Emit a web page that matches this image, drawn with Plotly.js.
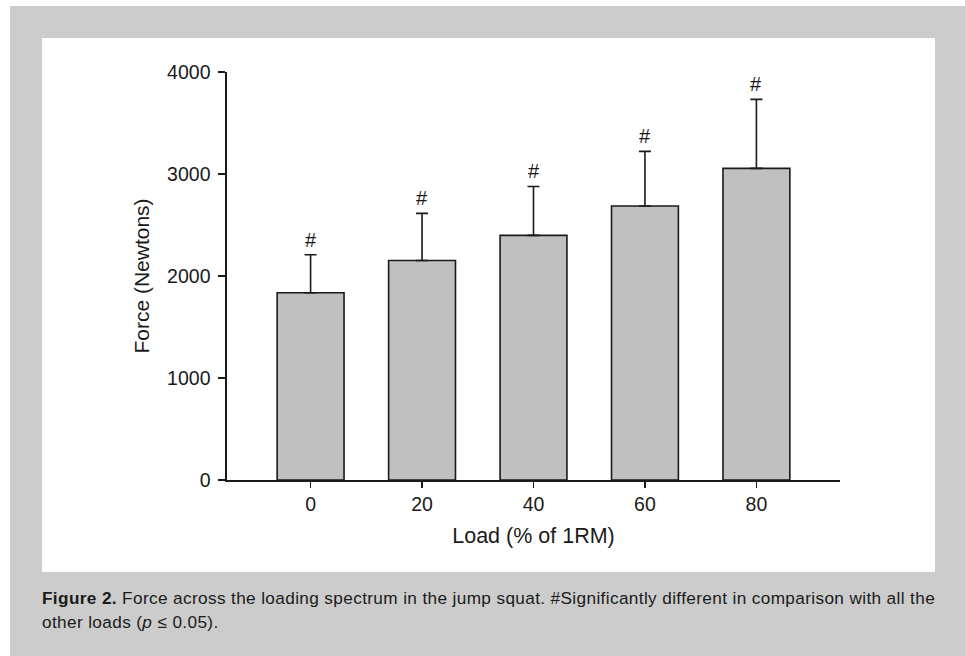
<!DOCTYPE html>
<html>
<head>
<meta charset="utf-8">
<script src="https://cdn.plot.ly/plotly-3.0.1.min.js"></script>
<style>
  html, body { margin: 0; padding: 0; background: #ffffff; }
  #frame { position: absolute; left: 10px; top: 6px; width: 955px; height: 650px; background: #cccccc; }
  #panel { position: absolute; left: 42px; top: 38px; width: 893px; height: 534px; background: #ffffff; }
  #chart { position: absolute; left: 0; top: 0; width: 965px; height: 656px; }
  #caption { position: absolute; left: 42px; top: 586px; width: 915px; white-space: nowrap;
    font-family: "Liberation Sans", Arial, sans-serif; font-size: 17.2px; letter-spacing: 0.37px;
    line-height: 24px; color: #1a1a1a; }
</style>
</head>
<body>
<div id="frame"></div>
<div id="panel"></div>
<div id="chart"></div>
<div id="caption"><b>Figure 2.</b> Force across the loading spectrum in the jump squat. #Significantly different in comparison with all the<br>other loads (<i>p</i> &le; 0.05).</div>
<script>
const loads = ['0', '20', '40', '60', '80'];
const force = [1836, 2152, 2398, 2686, 3055];
const forceSD = [373, 462, 480, 536, 677];
const markLabel = ['#', '#', '#', '#', '#'];
const yTicks = [0, 1000, 2000, 3000, 4000];

const ink = '#1a1a1a';
const fontFam = '"Liberation Sans", Arial, sans-serif';

const trace = {
  type: 'bar',
  x: loads,
  y: force,
  width: 0.6,
  marker: { color: '#c0c0c0', line: { color: ink, width: 1.6 } },
  error_y: {
    type: 'data', symmetric: false,
    array: forceSD, arrayminus: forceSD.map(() => 0),
    color: ink, thickness: 1.6, width: 6
  },
  hoverinfo: 'none'
};

const annotations = loads.map((c, i) => ({
  x: i, y: force[i] + forceSD[i], xref: 'x', yref: 'y',
  text: markLabel[i], showarrow: false,
  yanchor: 'bottom', yshift: 2,
  font: { family: fontFam, size: 20, color: ink }
}));

const layout = {
  width: 965, height: 656,
  margin: { l: 227, r: 125, t: 72, b: 176 },
  paper_bgcolor: 'rgba(0,0,0,0)',
  plot_bgcolor: 'rgba(0,0,0,0)',
  showlegend: false,
  font: { family: fontFam, color: ink },
  xaxis: {
    type: 'category', range: [-0.75, 4.75],
    showgrid: false, zeroline: false,
    showline: true, linecolor: ink, linewidth: 1.6,
    ticks: 'outside', ticklen: 6, tickwidth: 1.6, tickcolor: ink,
    tickfont: { size: 19.5, color: ink },
    title: { text: 'Load (% of 1RM)', font: { size: 21.5, color: ink }, standoff: 14 }
  },
  yaxis: {
    range: [0, 4000], tickvals: yTicks, ticktext: yTicks.map(String),
    showgrid: false, zeroline: false,
    showline: true, linecolor: ink, linewidth: 1.6,
    ticks: 'outside', ticklen: 7, tickwidth: 1.6, tickcolor: ink,
    tickfont: { size: 19.5, color: ink },
    ticklabelstandoff: 4,
    title: { text: 'Force (Newtons)', font: { size: 21, color: ink }, standoff: 12 }
  },
  annotations: annotations
};

Plotly.newPlot('chart', [trace], layout, { displayModeBar: false, staticPlot: true });
</script>
</body>
</html>
